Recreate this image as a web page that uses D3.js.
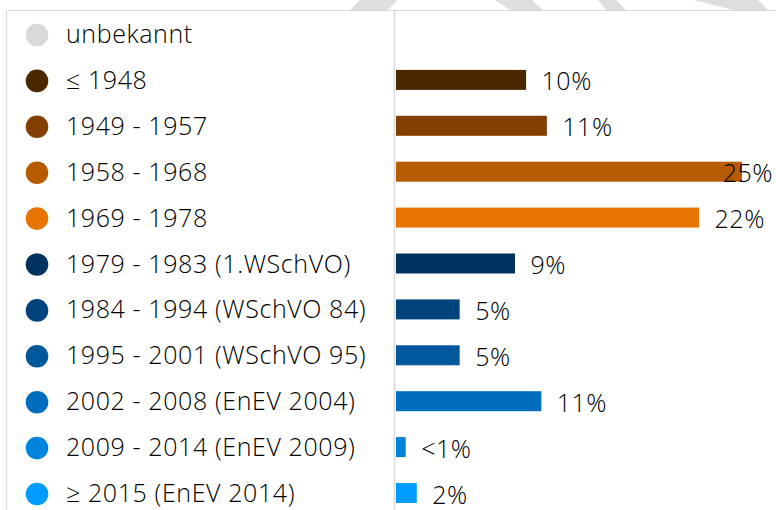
<!DOCTYPE html>
<html>
<head>
<meta charset="utf-8">
<script src="https://cdn.jsdelivr.net/npm/d3@7"></script>
<style>
  html, body { margin: 0; padding: 0; background: #fff; }
  svg { display: block; font-family: "Open Sans", "DejaVu Sans", sans-serif; }
</style>
</head>
<body>
<svg id="chart"></svg>
<script>
// Baualtersklassen
var categories = ['unbekannt', '≤ 1948', '1949 - 1957', '1958 - 1968', '1969 - 1978',
    '1979 - 1983 (1.WSchVO)', '1984 - 1994 (WSchVO 84)', '1995 - 2001 (WSchVO 95)',
    '2002 - 2008 (EnEV 2004)', '2009 - 2014 (EnEV 2009)', '≥ 2015 (EnEV 2014)'];

// Anteile in Prozent (aus Balkenlaenge geschaetzt)
var values = [0, 9.4, 10.9, 25.0, 21.9, 8.6, 4.6, 4.6, 10.5, 0.7, 1.5];

// Beschriftungen
var valueLabels = ['', '10%', '11%', '25%', '22%', '9%', '5%', '5%', '11%', '<1%', '2%'];

var colors = ['#d9d9d9', '#4b2800', '#833f00', '#b65b00', '#e87400',
    '#00325f', '#00437d', '#00589c', '#006dbf', '#0083db', '#009bfe'];

var width = 776, height = 510;
var svg = d3.select('#chart').attr('width', width).attr('height', height);

// Hintergrund-Streifen oben (Dekoration)
var stripes = [
    [[360, 0], [397, 0], [388, 10], [350, 10]],
    [[495, 0], [532, 0], [543, 10], [510, 10]],
    [[598, 0], [616, 0], [626, 10], [606, 10]],
    [[694, 0], [758, 0], [768, 10], [733, 10]]
];
svg.selectAll('.stripe').data(stripes).enter().append('polygon')
    .attr('class', 'stripe')
    .attr('points', function (d) { return d.map(function (p) { return p.join(','); }).join(' '); })
    .attr('fill', '#dedede');

// Rahmen
svg.append('line').attr('x1', 6).attr('x2', width).attr('y1', 10.5).attr('y2', 10.5)
    .attr('stroke', '#d9d9d9').attr('stroke-width', 1.2);
svg.append('line').attr('x1', 6.5).attr('x2', 6.5).attr('y1', 10).attr('y2', height)
    .attr('stroke', '#d9d9d9').attr('stroke-width', 1.2);

// ---------ESCALAS------------
var scale_y = d3.scalePoint().domain(categories).range([34, 493]);
var scale_x = d3.scaleLinear().domain([0, 25]).range([396, 742]);
var barH = 20;

// Achse (vertikale Linie)
svg.append('g')
    .attr('transform', 'translate(394.5,0)')
    .call(d3.axisLeft(scale_y).tickSize(0).tickFormat(''))
    .call(function (g) {
        g.select('.domain').attr('d', 'M0,10V' + height).attr('stroke', '#d9d9d9').attr('stroke-width', 1.5);
    });

// Legende
var leg = svg.append('g');
leg.selectAll('circle').data(categories).enter().append('circle')
    .attr('cx', 37)
    .attr('cy', function (d) { return scale_y(d) + 1; })
    .attr('r', 11.3)
    .attr('fill', function (d, i) { return colors[i]; });

leg.selectAll('text').data(categories).enter().append('text')
    .attr('x', 66)
    .attr('y', function (d) { return scale_y(d) + 9; })
    .attr('font-size', 25)
    .attr('font-weight', 300)
    .attr('letter-spacing', 0.6)
    .attr('fill', '#000')
    .text(function (d) { return d; });

// Balken
svg.selectAll('.bar').data(values).enter().append('rect')
    .attr('class', 'bar')
    .attr('x', scale_x(0))
    .attr('y', function (d, i) { return scale_y(categories[i]) - barH / 2; })
    .attr('width', function (d) { return scale_x(d) - scale_x(0); })
    .attr('height', barH)
    .attr('fill', function (d, i) { return colors[i]; });

// Werte
svg.selectAll('.lbl').data(values).enter().append('text')
    .attr('class', 'lbl')
    .attr('y', function (d, i) { return scale_y(categories[i]) + 10.5; })
    .attr('font-size', 25)
    .attr('font-weight', 300)
    .attr('letter-spacing', 0.5)
    .attr('fill', '#000')
    .text(function (d, i) { return valueLabels[i]; })
    .attr('x', function (d) {
        var w = this.getComputedTextLength();
        return Math.min(scale_x(d) + 15.5, width - 3 - w);
    });
</script>
</body>
</html>
